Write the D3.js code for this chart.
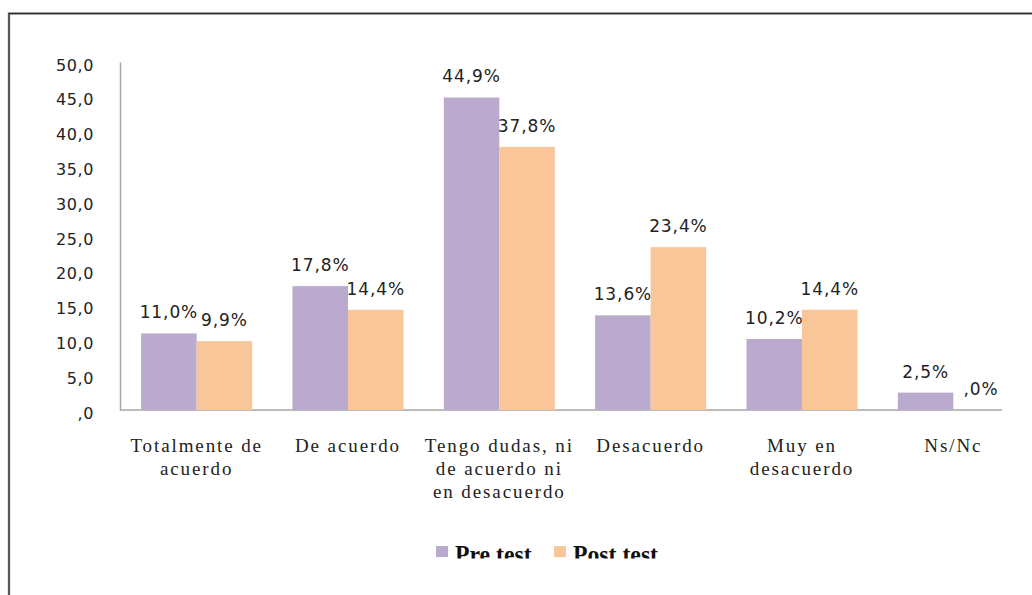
<!DOCTYPE html>
<html>
<head>
<meta charset="utf-8">
<script src="https://cdn.jsdelivr.net/npm/d3@7"></script>
<style>
html,body{margin:0;padding:0;background:#fff;}
svg{display:block;}
</style>
</head>
<body>
<svg id="chart" width="1032" height="595"></svg>
<script>
const categories = [
  ["Totalmente de", "acuerdo"],
  ["De acuerdo"],
  ["Tengo dudas, ni", "de acuerdo ni", "en desacuerdo"],
  ["Desacuerdo"],
  ["Muy en", "desacuerdo"],
  ["Ns/Nc"]
];
const seriesNames = ["Pre test", "Post test"];
const preTest = [11.0, 17.8, 44.9, 13.6, 10.2, 2.5];
const postTest = [9.9, 14.4, 37.8, 23.4, 14.4, 0.0];
const yTicks = [0, 5, 10, 15, 20, 25, 30, 35, 40, 45, 50];
const colors = ["#B9AACE", "#F9C69A"];

const svg = d3.select("#chart");
const catKeys = categories.map(c => c.join(" "));
const seriesValues = [preTest, postTest];

// frame
svg.append("rect").attr("x", 9).attr("y", 13.5).attr("width", 1040).attr("height", 600)
  .attr("fill", "none").attr("stroke", "#9a9a9a").attr("stroke-width", 2.5);
svg.append("rect").attr("x", 9).attr("y", 13.5).attr("width", 1040).attr("height", 600)
  .attr("fill", "none").attr("stroke", "#2a2a2a").attr("stroke-width", 1.2);

const y = d3.scaleLinear().domain([0, 50]).range([410, 62]);
const x0 = d3.scaleBand().domain(catKeys).range([121, 1029]).padding(0);
const x1 = d3.scaleBand().domain(seriesNames).range([0, x0.bandwidth()]).paddingInner(0).paddingOuter(0.363);

const fmt = d => d === 0 ? ",0" : d.toFixed(1).replace(".", ",");

// y axis
const yAxis = d3.axisLeft(y).tickValues(yTicks).tickFormat(fmt).tickSize(0).tickPadding(26);
const gy = svg.append("g").attr("transform", "translate(120,0)").call(yAxis);
gy.select(".domain").attr("stroke", "#a6a6a6").attr("stroke-width", 1.5);
gy.selectAll("text").attr("font-family", "DejaVu Sans, Verdana, sans-serif")
  .attr("font-size", 16).attr("fill", "#222").attr("dy", "0.5em").attr("letter-spacing", 0.6);

// x axis line
svg.append("line").attr("x1", 120).attr("x2", 1002).attr("y1", y(0)).attr("y2", y(0))
  .attr("stroke", "#a6a6a6").attr("stroke-width", 1.5);

// bars
const groups = svg.append("g").selectAll("g").data(catKeys).join("g")
  .attr("transform", d => `translate(${x0(d)},0)`);

groups.each(function(cat, i) {
  const g = d3.select(this);
  seriesNames.forEach((s, j) => {
    const v = seriesValues[j][i];
    g.append("rect")
      .attr("x", x1(s)).attr("width", x1.bandwidth())
      .attr("y", y(v)).attr("height", y(0) - y(v))
      .attr("fill", colors[j]);
    g.append("text")
      .attr("x", x1(s) + x1.bandwidth() / 2)
      .attr("y", y(v) - 15)
      .attr("text-anchor", "middle")
      .attr("font-family", "DejaVu Sans, Verdana, sans-serif")
      .attr("font-size", 17).attr("letter-spacing", 0.9)
      .attr("fill", "#222")
      .text(fmt(v) + "%");
  });
});

// category labels
categories.forEach((lines, i) => {
  const t = svg.append("text")
    .attr("x", x0(catKeys[i]) + x0.bandwidth() / 2)
    .attr("y", 452)
    .attr("text-anchor", "middle")
    .attr("font-family", "Liberation Serif, Times New Roman, serif")
    .attr("font-size", 19).attr("letter-spacing", 1.9)
    .attr("fill", "#222");
  lines.forEach((ln, k) => {
    t.append("tspan").attr("x", x0(catKeys[i]) + x0.bandwidth() / 2)
      .attr("dy", k === 0 ? 0 : 23).text(ln);
  });
});

// legend
svg.append("defs").append("clipPath").attr("id", "legclip")
  .append("rect").attr("x", 400).attr("y", 530).attr("width", 300).attr("height", 28.5);
const leg = svg.append("g").attr("clip-path", "url(#legclip)");
const legX = [436, 554];
seriesNames.forEach((s, j) => {
  leg.append("rect").attr("x", legX[j]).attr("y", 546).attr("width", 12).attr("height", 11)
    .attr("fill", colors[j]);
  leg.append("text").attr("x", legX[j] + 19).attr("y", 563)
    .attr("font-family", "Liberation Serif, Times New Roman, serif")
    .attr("font-size", 25).attr("font-weight", "bold")
    .attr("transform", `translate(${legX[j] + 19},0) scale(0.95,1) translate(${-(legX[j] + 19)},0)`)
    .attr("fill", "#111")
    .text(s);
});
</script>
</body>
</html>
